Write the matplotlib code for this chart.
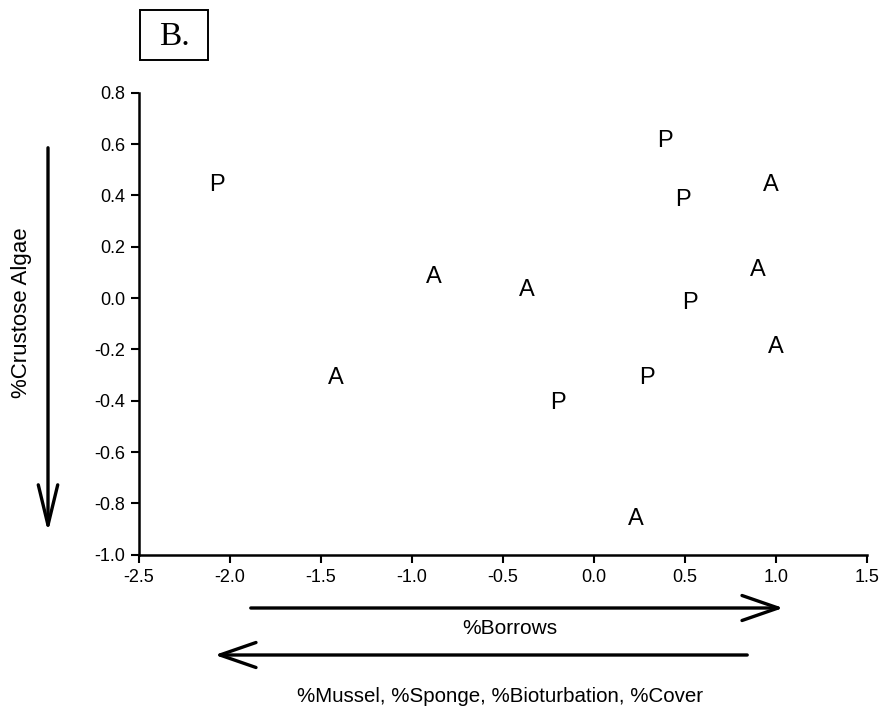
import matplotlib.pyplot as plt
from matplotlib.patches import FancyArrowPatch, Rectangle

plt.rcParams['font.family'] = ['Liberation Sans', 'DejaVu Sans']

# ordination scores, labelled by group
labels = ['P', 'A', 'A', 'A', 'P', 'P', 'P', 'A', 'A', 'P', 'A', 'P', 'A']
x_vals = [-2.07, -0.88, -0.37, -1.42, -0.20, 0.39, 0.49, 0.97, 0.90, 0.53, 1.00, 0.29, 0.23]
y_vals = [0.44, 0.08, 0.03, -0.31, -0.41, 0.61, 0.38, 0.44, 0.11, -0.02, -0.19, -0.31, -0.86]

x_ticks = [-2.5, -2.0, -1.5, -1.0, -0.5, 0.0, 0.5, 1.0, 1.5]
y_ticks = [0.8, 0.6, 0.4, 0.2, 0.0, -0.2, -0.4, -0.6, -0.8, -1.0]

fig = plt.figure(figsize=[8.8, 7.13], dpi=100)
ax = fig.add_axes([0.158, 0.222, 0.827, 0.648])

for lab, x, y in zip(labels, x_vals, y_vals):
    ax.text(x, y, lab, ha='center', va='center', fontsize=17)

ax.set_xlim(-2.5, 1.5)
ax.set_ylim(-1.0, 0.8)
ax.set_xticks(x_ticks)
ax.set_yticks(y_ticks)
ax.set_xticklabels([f'{t:.1f}' for t in x_ticks], fontsize=13)
ax.set_yticklabels([f'{t:.1f}' for t in y_ticks], fontsize=13)
ax.spines['top'].set_visible(False)
ax.spines['right'].set_visible(False)
ax.spines['left'].set_linewidth(1.8)
ax.spines['bottom'].set_linewidth(1.8)
ax.tick_params(direction='out', length=6, width=1.5, pad=4)


def px(x, y):
    return (x / 880, 1 - y / 713)


# panel tag
x0, y0 = px(140, 60)
x1, y1 = px(208, 10)
fig.add_artist(Rectangle((x0, y0), x1 - x0, y1 - y0, transform=fig.transFigure,
                         fill=False, ec='black', lw=1.4))
fig.text(*px(174, 37), 'B.', family='Liberation Serif', fontsize=24,
         ha='center', va='center')


def arrow(p0, p1, hl, hw):
    a = FancyArrowPatch(px(*p0), px(*p1), transform=fig.transFigure,
                        arrowstyle=f'->,head_length={hl},head_width={hw}',
                        mutation_scale=1, lw=2.4, color='black')
    fig.add_artist(a)


arrow((48, 145), (48, 535), 29, 7)
arrow((248, 608), (786, 608), 26, 9)
arrow((750, 655), (212, 655), 26, 9)

fig.text(*px(510, 628), '%Borrows', ha='center', va='center', fontsize=15)
fig.text(*px(500, 697), '%Mussel, %Sponge, %Bioturbation, %Cover',
         ha='center', va='center', fontsize=14.8)
fig.text(*px(21, 313), '%Crustose Algae', ha='center', va='center',
         rotation=90, fontsize=16)

plt.savefig('out.png', dpi=100)
